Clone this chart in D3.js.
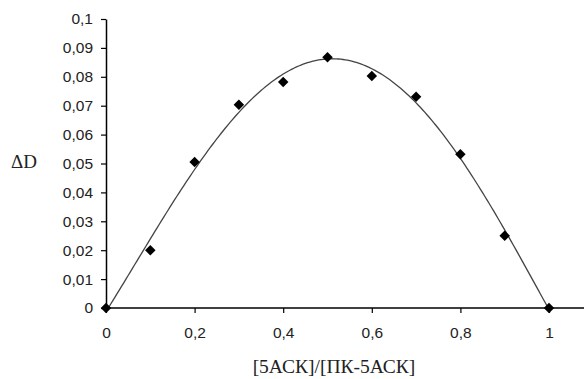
<!DOCTYPE html>
<html>
<head>
<meta charset="utf-8">
<script src="https://cdn.jsdelivr.net/npm/d3@7"></script>
<style>
  html, body { margin: 0; padding: 0; background: #fff; }
  svg { display: block; }
</style>
</head>
<body>
<svg id="chart" width="584" height="379"></svg>
<script>
// Measured points: ratio [5АСК]/[ПК-5АСК] vs ΔD
const ratio = [0, 0.1, 0.2, 0.3, 0.4, 0.5, 0.6, 0.7, 0.8, 0.9, 1.0];
const deltaD = [0, 0.020, 0.0505, 0.0703, 0.0782, 0.0868, 0.0803, 0.0731, 0.0532, 0.0250, 0];

const xTicks = [0, 0.2, 0.4, 0.6, 0.8, 1];
const yTicks = [0, 0.01, 0.02, 0.03, 0.04, 0.05, 0.06, 0.07, 0.08, 0.09, 0.1];

const xTitle = "[5АСК]/[ПК-5АСК]";
const yTitle = "ΔD";

const fmt = v => String(+v.toFixed(2)).replace(".", ",");

// Least-squares polynomial trendline through the measured points
function polyFit(xs, ys, deg) {
  const n = deg + 1;
  const A = Array.from({length: n}, () => new Array(n + 1).fill(0));
  for (let k = 0; k < xs.length; k++) {
    for (let i = 0; i < n; i++) {
      for (let j = 0; j < n; j++) A[i][j] += Math.pow(xs[k], i + j);
      A[i][n] += ys[k] * Math.pow(xs[k], i);
    }
  }
  for (let c = 0; c < n; c++) {
    let p = c;
    for (let r = c + 1; r < n; r++) if (Math.abs(A[r][c]) > Math.abs(A[p][c])) p = r;
    [A[c], A[p]] = [A[p], A[c]];
    for (let r = 0; r < n; r++) {
      if (r === c) continue;
      const f = A[r][c] / A[c][c];
      for (let j = c; j <= n; j++) A[r][j] -= f * A[c][j];
    }
  }
  return A.map((row, i) => row[n] / row[i]);
}
const coef = polyFit(ratio, deltaD, 4);
const poly = x => coef.reduce((s, c, i) => s + c * Math.pow(x, i), 0);

const svg = d3.select("#chart");
const x0 = 106, x1 = 549, y0 = 308, y1 = 19;

const x = d3.scaleLinear().domain([0, 1]).range([x0, x1]);
const y = d3.scaleLinear().domain([0, 0.1]).range([y0, y1]);

// y axis
const yAxis = svg.append("g")
  .attr("transform", `translate(${x0},0)`)
  .call(d3.axisLeft(y).tickValues(yTicks).tickFormat(fmt).tickSize(5).tickPadding(8).tickSizeOuter(0));
yAxis.select(".domain").attr("stroke", "#000").attr("stroke-width", 1.5);

// x axis, extending to the right edge
const xAxis = svg.append("g")
  .attr("transform", `translate(0,${y0})`)
  .call(d3.axisBottom(x).tickValues(xTicks).tickFormat(fmt).tickSize(5).tickPadding(14).tickSizeOuter(0));
xAxis.select(".domain").remove();
xAxis.append("line").attr("x1", x0).attr("x2", 584).attr("y1", 0).attr("y2", 0)
  .attr("stroke", "#000").attr("stroke-width", 1.5);

svg.selectAll(".tick line").attr("stroke", "#000").attr("stroke-width", 1.2);
svg.selectAll(".tick text")
  .attr("font-family", "Liberation Sans, Arial, sans-serif")
  .attr("font-size", 15.5)
  .attr("fill", "#222");

// trendline
const curve = d3.range(0, 1.0001, 0.005).map(v => [v, poly(v)]);
svg.append("path")
  .datum(curve)
  .attr("fill", "none")
  .attr("stroke", "#444")
  .attr("stroke-width", 1.3)
  .attr("d", d3.line().x(d => x(d[0])).y(d => y(d[1])));

// diamond markers
const diamond = d3.symbol().type(d3.symbolDiamond2).size(70);
svg.selectAll(".pt")
  .data(ratio.map((r, i) => [r, deltaD[i]]))
  .join("path")
  .attr("class", "pt")
  .attr("transform", d => `translate(${x(d[0])},${y(d[1])})`)
  .attr("d", diamond)
  .attr("fill", "#000");

// axis titles
svg.append("text")
  .attr("x", 334).attr("y", 373)
  .attr("text-anchor", "middle")
  .attr("font-family", "Liberation Serif, Times New Roman, serif")
  .attr("font-size", 19.5)
  .attr("fill", "#222")
  .text(xTitle);

svg.append("text")
  .attr("x", 24).attr("y", 168)
  .attr("text-anchor", "middle")
  .attr("font-family", "Liberation Serif, Times New Roman, serif")
  .attr("font-size", 19)
  .attr("fill", "#222")
  .text(yTitle);
</script>
</body>
</html>
